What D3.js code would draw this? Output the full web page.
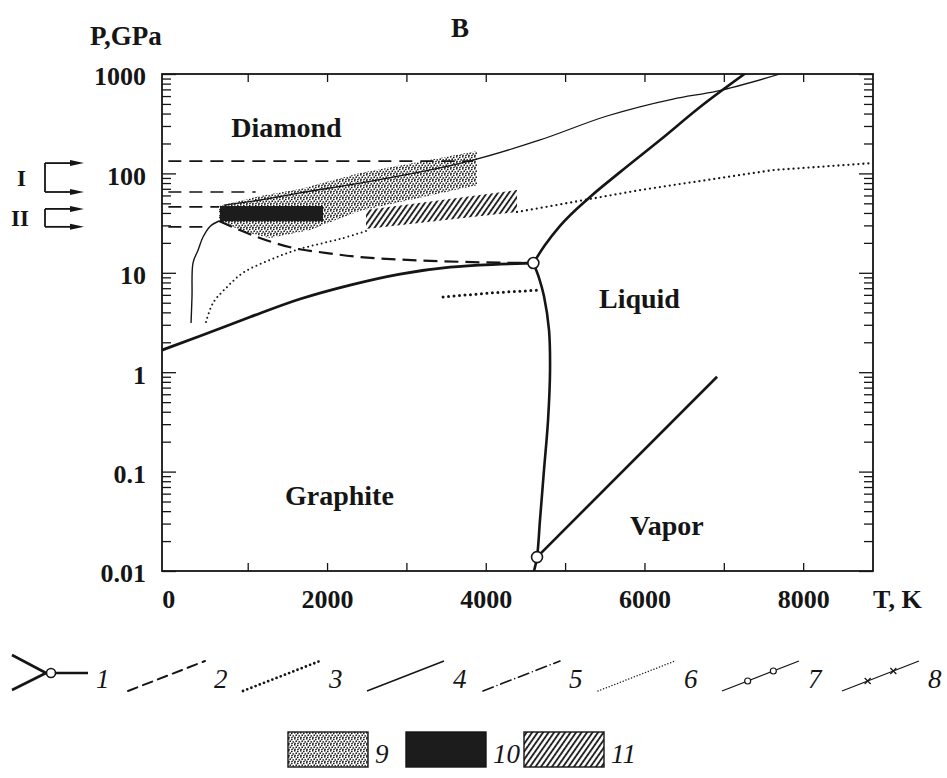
<!DOCTYPE html>
<html>
<head>
<meta charset="utf-8">
<script src="https://cdn.jsdelivr.net/npm/d3@7"></script>
<style>
  body { margin: 0; background: #fff; }
  svg { display: block; }
  text { font-family: "Liberation Serif", "Times New Roman", serif; fill: #151515; }
</style>
</head>
<body>
<svg width="947" height="778"></svg>
<script>
// carbon phase diagram, T in K, P in GPa
const xTicks = [0, 2000, 4000, 6000, 8000];
const yTicks = [0.01, 0.1, 1, 10, 100, 1000];

const graphiteDiamond = [[-80, 1.67], [400, 2.31], [1030, 3.59], [1659, 5.45], [2290, 7.53], [2920, 9.72], [3551, 11.4], [4181, 12.2], [4600, 12.55]];
const graphiteLiquid = [[4600, 12.55], [4671, 8.9], [4734, 5.8], [4797, 2.66], [4810, 1.05], [4785, 0.33], [4734, 0.104], [4684, 0.033], [4646, 0.0138], [4608, 0.01]];
const diamondLiquid = [[4600, 12.55], [4747, 19.0], [4936, 29.6], [5314, 57.9], [5692, 103], [6197, 217], [6701, 466], [7294, 1047]];
const vaporLine = [[4646, 0.0138], [6915, 0.9]];
const triplePoints = [[4600, 12.55], [4646, 0.0138]];

const metastable = [[639, 33.2], [992, 25.1], [1570, 17.8], [2000, 15.8], [2416, 14.4], [3008, 13.5], [3840, 12.8], [4600, 12.55]];
const levelP = [133, 65, 46, 29];
const levelEndT = [3840, 1100, 639, 530];

const thinCurve = [[286, 3.13], [298, 5.7], [311, 12.6], [374, 16.9], [437, 22.9], [525, 29.3], [639, 33.2]];
const thinLine = [[700, 48], [1155, 54], [1659, 63.6], [2416, 80], [3840, 136], [4684, 217], [5528, 378], [6360, 560], [6915, 674], [7709, 1000]];

const fineDotted = [[475, 3.2], [563, 4.97], [740, 7.2], [941, 10], [1281, 13.5], [1659, 17.4], [2163, 21.9], [2491, 26.3]];
const upperDotted = [[4394, 40.9], [4684, 44.9], [5944, 68], [7621, 108], [8880, 127]];
const boldDotted = [[3462, 5.71], [4054, 6.27], [4684, 6.71]];

const stippleRegion = [[639, 47], [1155, 59.3], [1659, 69.7], [2416, 101], [3890, 168], [3890, 76], [2416, 42], [1785, 27], [1281, 22.4], [966, 25.7], [639, 33.2]];
const blackT = [650, 1950];
const blackP = [33, 47];
const hatchRegion = [[2491, 42.8], [4394, 68], [4394, 40.9], [2491, 27.6]];

const phaseNames = ['Diamond', 'Graphite', 'Liquid', 'Vapor'];
const phaseT = [792, 1470, 5427, 5818];
const phaseP = [232, 0.046, 4.4, 0.023];

const legendNums = ['2', '3', '4', '5', '6', '7', '8'];
const legendX = [128, 243, 367, 483, 598, 722, 842];

const svg = d3.select('svg');
const ink = '#151515';

const x = d3.scaleLinear().domain([-80, 8880]).range([162, 873]);
const y = d3.scaleLog().domain([0.01, 1000]).range([571, 74]);

const defs = svg.append('defs');
defs.append('clipPath').attr('id', 'plot')
    .append('rect').attr('x', 162).attr('y', 74).attr('width', 711).attr('height', 497);

const stip = defs.append('pattern').attr('id', 'stip')
    .attr('patternUnits', 'userSpaceOnUse').attr('width', 6).attr('height', 6);
[[0.8, 0.8], [3.8, 1.4], [2.2, 3.2], [5.2, 3.9], [1.0, 5.3], [4.0, 5.6]].forEach(p => {
    stip.append('circle').attr('cx', p[0]).attr('cy', p[1]).attr('r', 0.85).attr('fill', ink);
});

const hatch = defs.append('pattern').attr('id', 'hatch')
    .attr('patternUnits', 'userSpaceOnUse').attr('width', 4.5).attr('height', 10)
    .attr('patternTransform', 'rotate(35)');
hatch.append('line').attr('x1', 1).attr('y1', 0).attr('x2', 1).attr('y2', 10)
    .attr('stroke', ink).attr('stroke-width', 1.8);

// ---- axes ----
const minor = [];
yTicks.slice(0, -1).forEach(d => { for (let k = 2; k < 10; k++) minor.push(d * k); });

function clean(g) {
    g.select('.domain').remove();
    g.selectAll('line').attr('stroke', ink).attr('stroke-width', 1.3);
}

const left = svg.append('g').attr('transform', 'translate(162,0)');
left.append('g').call(d3.axisLeft(y).tickValues(minor).tickSize(-9).tickFormat('')).call(clean);
left.append('g').call(d3.axisLeft(y).tickValues(yTicks).tickSize(-14).tickPadding(16).tickFormat(d => String(d)))
    .call(clean)
    .selectAll('text')
    .attr('dy', '0.42em')
    .attr('font-size', 26).attr('font-weight', 'bold')
    .attr('font-family', '"Liberation Serif", serif').attr('fill', ink);

const right = svg.append('g').attr('transform', 'translate(873,0)');
right.append('g').call(d3.axisRight(y).tickValues(minor).tickSize(-9).tickFormat('')).call(clean);
right.append('g').call(d3.axisRight(y).tickValues(yTicks).tickSize(-14).tickFormat('')).call(clean);

const kTicks = d3.range(1000, 9000, 1000);
svg.append('g').attr('transform', 'translate(0,571)')
    .call(d3.axisBottom(x).tickValues(kTicks).tickSize(-8).tickFormat('')).call(clean);
svg.append('g').attr('transform', 'translate(0,74)')
    .call(d3.axisTop(x).tickValues(kTicks).tickSize(-8).tickFormat('')).call(clean);
svg.append('g').attr('transform', 'translate(0,571)')
    .call(d3.axisBottom(x).tickValues(xTicks).tickSize(0).tickPadding(19).tickFormat(d => String(d)))
    .call(clean)
    .selectAll('text')
    .attr('font-size', 26).attr('font-weight', 'bold')
    .attr('font-family', '"Liberation Serif", serif').attr('fill', ink);

svg.append('rect')
    .attr('x', 162).attr('y', 74).attr('width', 711).attr('height', 497)
    .attr('fill', 'none').attr('stroke', ink).attr('stroke-width', 1.8);

// ---- plot contents ----
const plot = svg.append('g').attr('clip-path', 'url(#plot)');

const smooth = d3.line()
    .x(d => x(d[0])).y(d => y(d[1]))
    .curve(d3.curveMonotoneX);
const bendy = d3.line()
    .x(d => x(d[0])).y(d => y(d[1]))
    .curve(d3.curveCatmullRom.alpha(0.5));
const straight = d3.line().x(d => x(d[0])).y(d => y(d[1]));

plot.append('path').attr('d', straight(stippleRegion) + 'Z')
    .attr('fill', 'url(#stip)');
plot.append('path').attr('d', straight(hatchRegion) + 'Z')
    .attr('fill', 'url(#hatch)');
plot.append('rect')
    .attr('x', x(blackT[0])).attr('y', y(blackP[1]))
    .attr('width', x(blackT[1]) - x(blackT[0]))
    .attr('height', y(blackP[0]) - y(blackP[1]))
    .attr('fill', '#1c1c1c');

// shock compression levels
plot.selectAll('.level').data(levelP).join('line')
    .attr('x1', x(0)).attr('x2', (d, i) => x(levelEndT[i]))
    .attr('y1', d => y(d)).attr('y2', d => y(d))
    .attr('stroke', ink).attr('stroke-width', 1.6).attr('stroke-dasharray', '13,8');

function drawLine(data, width, dash, gen) {
    const p = plot.append('path').attr('d', (gen || smooth)(data))
        .attr('fill', 'none').attr('stroke', ink).attr('stroke-width', width);
    if (dash) p.attr('stroke-dasharray', dash).attr('stroke-linecap', dash.startsWith('0') ? 'round' : 'butt');
    return p;
}

drawLine(metastable, 2.2, '14,7');
drawLine(thinCurve, 1.4, null, bendy);
drawLine(thinLine, 1.3);
drawLine(fineDotted, 2, '0,4.6', bendy);
drawLine(upperDotted, 2.3, '0,5', straight);
drawLine(boldDotted, 3, '0,5.5', straight);

drawLine(graphiteDiamond, 2.8);
drawLine(graphiteLiquid, 2.6, null, bendy);
drawLine(diamondLiquid, 2.6);
drawLine(vaporLine, 2.6, null, straight);

svg.selectAll('.triple').data(triplePoints).join('circle')
    .attr('cx', d => x(d[0])).attr('cy', d => y(d[1])).attr('r', 5.5)
    .attr('fill', '#fff').attr('stroke', ink).attr('stroke-width', 1.6);

// phase names
svg.selectAll('.phase').data(phaseNames).join('text')
    .attr('x', (d, i) => x(phaseT[i])).attr('y', (d, i) => y(phaseP[i]))
    .attr('font-size', 28).attr('font-weight', 'bold')
    .text(d => d);

// titles
svg.append('text').attr('x', 90).attr('y', 45).attr('font-size', 27).attr('font-weight', 'bold').text('P,GPa');
svg.append('text').attr('x', 451).attr('y', 37).attr('font-size', 27).attr('font-weight', 'bold').text('B');
svg.append('text').attr('x', 873).attr('y', 608).attr('font-size', 26).attr('font-weight', 'bold').text('T, K');

// I / II brackets pointing at the dashed levels
function arrow(yy) {
    svg.append('line').attr('x1', 45).attr('x2', 72).attr('y1', yy).attr('y2', yy)
        .attr('stroke', ink).attr('stroke-width', 1.8);
    svg.append('path').attr('d', `M70,${yy - 3}L84,${yy}L70,${yy + 3}Z`).attr('fill', ink);
}
[[0, 1], [2, 3]].forEach((pair, i) => {
    const y0 = y(levelP[pair[0]]) + 2, y1 = y(levelP[pair[1]]);
    svg.append('line').attr('x1', 45).attr('x2', 45).attr('y1', y0).attr('y2', y1)
        .attr('stroke', ink).attr('stroke-width', 1.8);
    arrow(y0); arrow(y1);
    svg.append('text').attr('x', i ? 11 : 17).attr('y', (y0 + y1) / 2 + 8)
        .attr('font-size', 23).attr('font-weight', 'bold').text(i ? 'II' : 'I');
});

// ---- legend ----
const lg = svg.append('g');
lg.append('path').attr('d', 'M12,655L46,673M12,690L46,673M56,673L88,673')
    .attr('fill', 'none').attr('stroke', ink).attr('stroke-width', 2.6);
lg.append('circle').attr('cx', 51).attr('cy', 673).attr('r', 4.5)
    .attr('fill', '#fff').attr('stroke', ink).attr('stroke-width', 1.6);
lg.append('text').attr('x', 96).attr('y', 688).attr('font-size', 27).attr('font-style', 'italic').text('1');

const legendDash = ['10,6', '0,4.5', null, '11,4,0,4', '0,3', null, null];
const legendWidth = [2, 2.8, 1.4, 1.6, 1.5, 1.3, 1.3];
legendNums.forEach((n, i) => {
    const x0 = legendX[i], x1 = x0 + 77, y0 = 691, y1 = 661;
    const p = lg.append('line').attr('x1', x0).attr('y1', y0).attr('x2', x1).attr('y2', y1)
        .attr('stroke', ink).attr('stroke-width', legendWidth[i]);
    if (legendDash[i]) p.attr('stroke-dasharray', legendDash[i]).attr('stroke-linecap', 'round');
    [1 / 3, 2 / 3].forEach(f => {
        const cx = x0 + f * 77, cy = y0 - f * 30;
        if (n === '7') {
            lg.append('circle').attr('cx', cx).attr('cy', cy).attr('r', 3)
                .attr('fill', '#fff').attr('stroke', ink).attr('stroke-width', 1.2);
        } else if (n === '8') {
            lg.append('path').attr('d', `M${cx - 3},${cy - 3}L${cx + 3},${cy + 3}M${cx - 3},${cy + 3}L${cx + 3},${cy - 3}`)
                .attr('stroke', ink).attr('stroke-width', 1.2);
        }
    });
    lg.append('text').attr('x', x0 + 86).attr('y', 688).attr('font-size', 27).attr('font-style', 'italic').text(n);
});

const boxFill = ['url(#stip)', '#1c1c1c', 'url(#hatch)'];
const boxX = [288, 406, 524];
const boxNum = ['9', '10', '11'];
boxFill.forEach((f, i) => {
    lg.append('rect').attr('x', boxX[i]).attr('y', 732).attr('width', 80).attr('height', 35)
        .attr('fill', f).attr('stroke', ink).attr('stroke-width', 1.4);
    lg.append('text').attr('x', boxX[i] + 87).attr('y', 763).attr('font-size', 27).attr('font-style', 'italic').text(boxNum[i]);
});
</script>
</body>
</html>
